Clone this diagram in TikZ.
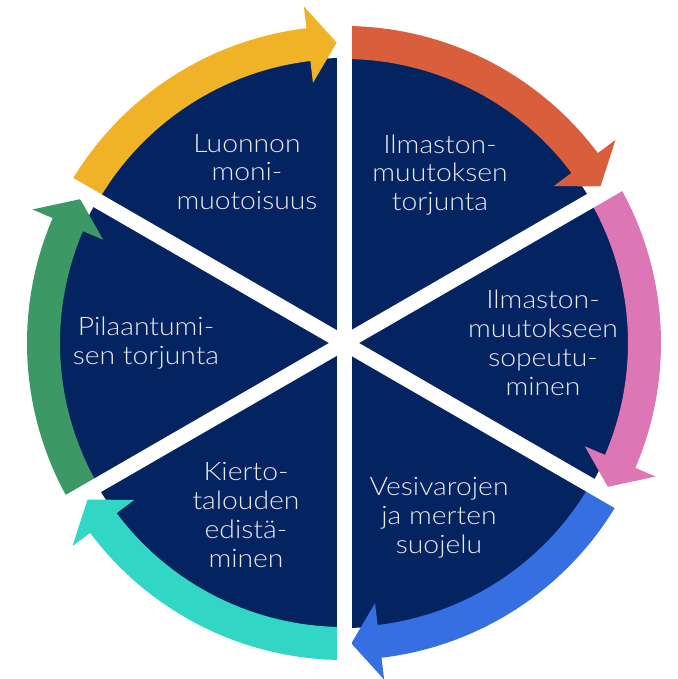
\documentclass[tikz,border=0pt]{standalone}
\usepackage{fontspec}
\IfFontExistsTF{Lato Light}{\setmainfont{Lato Light}[FakeStretch=1.11]}{\setmainfont{Lato}[FakeStretch=1.11]}
\begin{document}
\begin{tikzpicture}[x=1pt,y=1pt,
  lbl/.style={text=txtcol,align=center,font=\fontsize{25.5}{28.8}\selectfont,inner sep=0pt},
  gapline/.style={white,line width=15pt}]
\definecolor{navy}{RGB}{3,36,96}
\definecolor{txtcol}{RGB}{232,234,242}
\definecolor{cyel}{RGB}{240,179,40}
\definecolor{cora}{RGB}{216,94,60}
\definecolor{cpink}{RGB}{221,118,180}
\definecolor{cblue}{RGB}{53,111,225}
\definecolor{cteal}{RGB}{50,214,196}
\definecolor{cgreen}{RGB}{60,153,102}
\useasboundingbox (-344,-336) rectangle (333,343);
\fill[navy] (0,0) circle[radius=285];
% arrows: start angle s, end angle e (clockwise)
\foreach \s/\col in {90/cora,30/cpink,-30/cblue,-90/cteal,-150/cgreen,150/cyel}{
  \pgfmathsetmacro\eb{\s-60+6.8}
  \pgfmathsetmacro\et{\s-60+1.4}
  \fill[\col] (\s:317) arc[start angle=\s,end angle=\eb,radius=317]
     -- (\eb:339) -- (\et:300.5) -- (\eb:262) -- (\eb:284)
     arc[start angle=\eb,end angle=\s,radius=284] -- cycle;
}
\coordinate (c) at (0,0);
\foreach \a in {90,30,-30}{
  \draw[gapline] (\a:345) -- (\a+180:345);
}
\node[lbl] (n1) at (-97,171) {Luonnon\\moni-\\muotoisuus};
\node[lbl] (n2) at (96,168) {Ilmaston-\\muutoksen\\torjunta};
\node[lbl] (n3) at (199,0) {Ilmaston-\\muutokseen\\sopeutu-\\minen};
\node[lbl] (n4) at (95,-175) {Vesivarojen\\ja merten\\suojelu};
\node[lbl] (n5) at (-98,-172) {Kierto-\\talouden\\edistä-\\minen};
\node[lbl] (n6) at (-198,0) {Pilaantumi-\\sen torjunta};
\end{tikzpicture}
\end{document}
